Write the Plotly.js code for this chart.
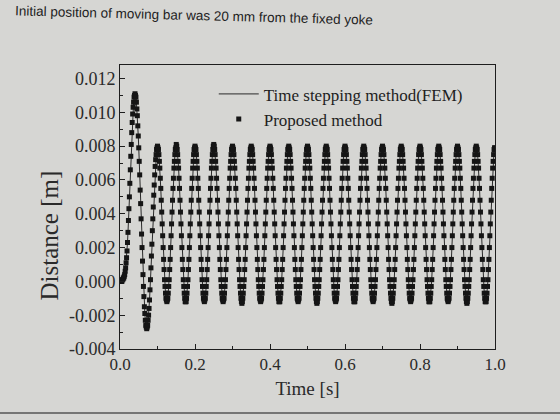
<!DOCTYPE html>
<html>
<head>
<meta charset="utf-8">
<script src="https://cdn.plot.ly/plotly-3.0.1.min.js"></script>
<style>html,body{margin:0;padding:0;background:#d6d6d3;}#chart{width:560px;height:420px;}</style>
</head>
<body>
<div id="chart"></div>
<script>
// Sampling step of the recorded series (seconds)
const sampleStepSeconds = 0.00125;

// Distance of the moving bar (millimetres), one value per sample
const distanceMm = [
  // release and first overshoot (t = 0 .. 0.1 s)
  0.0, 0.0, 0.0, 0.0, 0.0, 0.1, 0.1, 0.2, 0.2, 0.3,
  0.4, 0.6, 0.8, 1.1, 1.4, 1.8, 2.3, 2.9, 3.6, 4.3, 5.0, 5.8, 6.6, 7.4, 8.1, 8.8, 9.4, 9.9, 10.3, 10.6, 10.9, 11.0,
  11.1,
  11.0, 10.9, 10.6, 10.2, 9.8, 9.2, 8.6, 7.9, 7.1, 6.3, 5.4, 4.6, 3.7, 2.8, 2.0, 1.2, 0.4, -0.3, -0.9, -1.5, -1.9, -2.3, -2.6, -2.7, -2.8,
  -2.7, -2.6, -2.3, -2.0, -1.6, -1.1, -0.5, 0.1, 0.8, 1.5, 2.2, 3.0, 3.7, 4.4, 5.1, 5.7, 6.3, 6.8, 7.2, 7.5, 7.8, 7.9, 8.0,
  // cycle 1 (peak at 0.15 s)
  7.9, 7.8, 7.5, 7.1, 6.7, 6.1, 5.5, 4.8, 4.1, 3.4, 2.7, 2.0, 1.3, 0.7, 0.1, -0.3, -0.7, -1.0, -1.1, -1.2, -1.1, -1.0, -0.7, -0.3, 0.1, 0.7, 1.3, 2.0, 2.7, 3.4, 4.1, 4.8, 5.5, 6.1, 6.7, 7.1, 7.5, 7.8, 7.9, 8.1,
  // cycle 2 (peak at 0.20 s)
  8.0, 7.8, 7.5, 7.1, 6.7, 6.1, 5.5, 4.8, 4.1, 3.4, 2.7, 2.0, 1.3, 0.7, 0.1, -0.3, -0.7, -1.0, -1.2, -1.2, -1.2, -1.0, -0.7, -0.3, 0.1, 0.7, 1.3, 2.0, 2.7, 3.4, 4.1, 4.8, 5.5, 6.1, 6.7, 7.1, 7.5, 7.8, 7.9, 8.0,
  // cycle 3 (peak at 0.25 s)
  7.9, 7.8, 7.5, 7.1, 6.7, 6.1, 5.5, 4.8, 4.1, 3.4, 2.7, 2.0, 1.3, 0.7, 0.1, -0.3, -0.7, -1.0, -1.1, -1.2, -1.1, -1.0, -0.7, -0.3, 0.1, 0.7, 1.3, 2.0, 2.7, 3.4, 4.1, 4.8, 5.5, 6.1, 6.7, 7.1, 7.5, 7.8, 8.0, 8.1,
  // cycle 4 (peak at 0.30 s)
  8.0, 7.8, 7.5, 7.1, 6.7, 6.1, 5.5, 4.8, 4.1, 3.4, 2.7, 2.0, 1.3, 0.7, 0.1, -0.3, -0.7, -1.0, -1.1, -1.2, -1.1, -1.0, -0.7, -0.3, 0.1, 0.7, 1.3, 2.0, 2.7, 3.4, 4.1, 4.8, 5.5, 6.1, 6.7, 7.1, 7.5, 7.8, 7.9, 8.0,
  // cycle 5 (peak at 0.35 s)
  7.9, 7.8, 7.5, 7.1, 6.7, 6.1, 5.5, 4.8, 4.1, 3.4, 2.7, 2.0, 1.3, 0.7, 0.1, -0.3, -0.7, -1.0, -1.2, -1.3, -1.2, -1.0, -0.7, -0.3, 0.1, 0.7, 1.3, 2.0, 2.7, 3.4, 4.1, 4.8, 5.5, 6.1, 6.7, 7.1, 7.5, 7.8, 7.9, 8.0,
  // cycle 6 (peak at 0.40 s)
  7.9, 7.8, 7.5, 7.1, 6.7, 6.1, 5.5, 4.8, 4.1, 3.4, 2.7, 2.0, 1.3, 0.7, 0.1, -0.3, -0.7, -1.0, -1.1, -1.2, -1.1, -1.0, -0.7, -0.3, 0.1, 0.7, 1.3, 2.0, 2.7, 3.4, 4.1, 4.8, 5.5, 6.1, 6.7, 7.1, 7.5, 7.8, 7.9, 8.0,
  // cycle 7 (peak at 0.45 s)
  7.9, 7.8, 7.5, 7.1, 6.7, 6.1, 5.5, 4.8, 4.1, 3.4, 2.7, 2.0, 1.3, 0.7, 0.1, -0.3, -0.7, -1.0, -1.2, -1.2, -1.2, -1.0, -0.7, -0.3, 0.1, 0.7, 1.3, 2.0, 2.7, 3.4, 4.1, 4.8, 5.5, 6.1, 6.7, 7.1, 7.5, 7.8, 7.9, 8.0,
  // cycle 8 (peak at 0.50 s)
  7.9, 7.8, 7.5, 7.1, 6.7, 6.1, 5.5, 4.8, 4.1, 3.4, 2.7, 2.0, 1.3, 0.7, 0.1, -0.3, -0.7, -1.0, -1.1, -1.2, -1.1, -1.0, -0.7, -0.3, 0.1, 0.7, 1.3, 2.0, 2.7, 3.4, 4.1, 4.8, 5.5, 6.1, 6.7, 7.1, 7.5, 7.8, 7.9, 8.0,
  // cycle 9 (peak at 0.55 s)
  7.9, 7.8, 7.5, 7.1, 6.7, 6.1, 5.5, 4.8, 4.1, 3.4, 2.7, 2.0, 1.3, 0.7, 0.1, -0.3, -0.7, -1.0, -1.2, -1.3, -1.2, -1.0, -0.7, -0.3, 0.1, 0.7, 1.3, 2.0, 2.7, 3.4, 4.1, 4.8, 5.5, 6.1, 6.7, 7.1, 7.5, 7.8, 7.9, 8.0,
  // cycle 10 (peak at 0.60 s)
  7.9, 7.8, 7.5, 7.1, 6.7, 6.1, 5.5, 4.8, 4.1, 3.4, 2.7, 2.0, 1.3, 0.7, 0.1, -0.3, -0.7, -1.0, -1.1, -1.2, -1.1, -1.0, -0.7, -0.3, 0.1, 0.7, 1.3, 2.0, 2.7, 3.4, 4.1, 4.8, 5.5, 6.1, 6.7, 7.1, 7.5, 7.8, 7.9, 8.0,
  // cycle 11 (peak at 0.65 s)
  7.9, 7.8, 7.5, 7.1, 6.7, 6.1, 5.5, 4.8, 4.1, 3.4, 2.7, 2.0, 1.3, 0.7, 0.1, -0.3, -0.7, -1.0, -1.2, -1.2, -1.2, -1.0, -0.7, -0.3, 0.1, 0.7, 1.3, 2.0, 2.7, 3.4, 4.1, 4.8, 5.5, 6.1, 6.7, 7.1, 7.5, 7.8, 7.9, 8.0,
  // cycle 12 (peak at 0.70 s)
  7.9, 7.8, 7.5, 7.1, 6.7, 6.1, 5.5, 4.8, 4.1, 3.4, 2.7, 2.0, 1.3, 0.7, 0.1, -0.3, -0.7, -1.0, -1.1, -1.2, -1.1, -1.0, -0.7, -0.3, 0.1, 0.7, 1.3, 2.0, 2.7, 3.4, 4.1, 4.8, 5.5, 6.1, 6.7, 7.1, 7.5, 7.8, 7.9, 8.0,
  // cycle 13 (peak at 0.75 s)
  7.9, 7.8, 7.5, 7.1, 6.7, 6.1, 5.5, 4.8, 4.1, 3.4, 2.7, 2.0, 1.3, 0.7, 0.1, -0.3, -0.7, -1.0, -1.2, -1.3, -1.2, -1.0, -0.7, -0.3, 0.1, 0.7, 1.3, 2.0, 2.7, 3.4, 4.1, 4.8, 5.5, 6.1, 6.7, 7.1, 7.5, 7.8, 7.9, 8.0,
  // cycle 14 (peak at 0.80 s)
  7.9, 7.8, 7.5, 7.1, 6.7, 6.1, 5.5, 4.8, 4.1, 3.4, 2.7, 2.0, 1.3, 0.7, 0.1, -0.3, -0.7, -1.0, -1.1, -1.2, -1.1, -1.0, -0.7, -0.3, 0.1, 0.7, 1.3, 2.0, 2.7, 3.4, 4.1, 4.8, 5.5, 6.1, 6.7, 7.1, 7.5, 7.8, 7.9, 8.0,
  // cycle 15 (peak at 0.85 s)
  7.9, 7.8, 7.5, 7.1, 6.7, 6.1, 5.5, 4.8, 4.1, 3.4, 2.7, 2.0, 1.3, 0.7, 0.1, -0.3, -0.7, -1.0, -1.2, -1.2, -1.2, -1.0, -0.7, -0.3, 0.1, 0.7, 1.3, 2.0, 2.7, 3.4, 4.1, 4.8, 5.5, 6.1, 6.7, 7.1, 7.5, 7.8, 7.9, 8.0,
  // cycle 16 (peak at 0.90 s)
  7.9, 7.8, 7.5, 7.1, 6.7, 6.1, 5.5, 4.8, 4.1, 3.4, 2.7, 2.0, 1.3, 0.7, 0.1, -0.3, -0.7, -1.0, -1.1, -1.2, -1.1, -1.0, -0.7, -0.3, 0.1, 0.7, 1.3, 2.0, 2.7, 3.4, 4.1, 4.8, 5.5, 6.1, 6.7, 7.1, 7.5, 7.8, 7.9, 8.0,
  // cycle 17 (peak at 0.95 s)
  7.9, 7.8, 7.5, 7.1, 6.7, 6.1, 5.5, 4.8, 4.1, 3.4, 2.7, 2.0, 1.3, 0.7, 0.1, -0.3, -0.7, -1.0, -1.2, -1.3, -1.2, -1.0, -0.7, -0.3, 0.1, 0.7, 1.3, 2.0, 2.7, 3.4, 4.1, 4.8, 5.5, 6.1, 6.7, 7.1, 7.5, 7.8, 7.9, 8.0,
  // cycle 18 (peak at 1.00 s)
  7.9, 7.8, 7.5, 7.1, 6.7, 6.1, 5.5, 4.8, 4.1, 3.4, 2.7, 2.0, 1.3, 0.7, 0.1, -0.3, -0.7, -1.0, -1.2, -1.2, -1.2, -1.0, -0.7, -0.3, 0.1, 0.7, 1.3, 2.0, 2.7, 3.4, 4.1, 4.8, 5.5, 6.1, 6.7, 7.1, 7.5, 7.8, 7.9, 7.9
];

const seriesNames = ['Time stepping method(FEM)', 'Proposed method'];
const xTickValues = [0.0, 0.2, 0.4, 0.6, 0.8, 1.0];
const xTickLabels = ['0.0', '0.2', '0.4', '0.6', '0.8', '1.0'];
const yTickValues = [-0.004, -0.002, 0.000, 0.002, 0.004, 0.006, 0.008, 0.010, 0.012];
const yTickLabels = ['-0.004', '-0.002', '0.000', '0.002', '0.004', '0.006', '0.008', '0.010', '0.012'];
const xTitle = 'Time [s]';
const yTitle = 'Distance [m]';
const headerText = 'Initial position of moving bar was 20 mm from the fixed yoke';

const timeS = distanceMm.map((_, i) => i * sampleStepSeconds);
const femDistance = distanceMm.map(v => v / 1000);
const proposedDistance = distanceMm.map(v => v / 1000);

const serif = 'Liberation Serif, Times New Roman, serif';
const ink = '#1e1e1e';

const traces = [
  {x: timeS, y: femDistance, name: seriesNames[0], type: 'scatter', mode: 'lines',
   line: {color: '#2a2a2a', width: 1}},
  {x: timeS, y: proposedDistance, name: seriesNames[1], type: 'scatter', mode: 'markers',
   marker: {symbol: 'square', size: 5, color: '#151515'}}
];

const layout = {
  width: 560, height: 420,
  paper_bgcolor: '#d6d6d3', plot_bgcolor: '#d6d6d3',
  margin: {l: 120, r: 65, t: 65, b: 71},
  font: {family: serif, color: ink},
  showlegend: true,
  legend: {x: 0.25, y: 0.96, xanchor: 'left', yanchor: 'top', bgcolor: 'rgba(0,0,0,0)',
           font: {family: serif, size: 17, color: ink}, itemwidth: 40, tracegroupgap: 0},
  xaxis: {range: [0, 1.0], tickmode: 'array', tickvals: xTickValues, ticktext: xTickLabels,
          ticks: 'inside', ticklen: 5, tickcolor: ink, showline: true, mirror: true, linecolor: ink, linewidth: 1,
          showgrid: false, zeroline: false, tickfont: {family: serif, size: 17, color: '#2a2a2a'},
          minor: {tickmode: 'linear', tick0: 0, dtick: 0.1, ticks: 'inside', ticklen: 3, tickcolor: ink, showgrid: false},
          title: {text: xTitle, font: {family: serif, size: 19, color: '#2a2a2a'}, standoff: 8}},
  yaxis: {range: [-0.004, 0.0128], tickmode: 'array', tickvals: yTickValues, ticktext: yTickLabels,
          ticks: 'inside', ticklen: 5, tickcolor: ink, showline: true, mirror: true, linecolor: ink, linewidth: 1,
          showgrid: false, zeroline: false, tickfont: {family: serif, size: 18, color: '#2a2a2a'},
          minor: {tickmode: 'linear', tick0: 0, dtick: 0.001, ticks: 'inside', ticklen: 3, tickcolor: ink, showgrid: false}},
  annotations: [
    {text: yTitle, xref: 'paper', yref: 'paper', x: -0.189, y: 0.40, xanchor: 'center', yanchor: 'middle',
     showarrow: false, textangle: -90, font: {family: serif, size: 25, color: '#2a2a2a'}},
    {text: headerText, xref: 'paper', yref: 'paper', x: 0.68, y: 1.176, xanchor: 'right', yanchor: 'middle',
     showarrow: false, textangle: 1.5, font: {family: 'Liberation Sans, Arial, sans-serif', size: 13.5, color: '#222'}}
  ],
  shapes: [
    {type: 'line', xref: 'paper', yref: 'paper', x0: -0.33, x1: 1.2, y0: -0.225, y1: -0.225,
     line: {color: '#555', width: 1.5}}
  ]
};

Plotly.newPlot('chart', traces, layout, {displayModeBar: false, staticPlot: true});
</script>
</body>
</html>
